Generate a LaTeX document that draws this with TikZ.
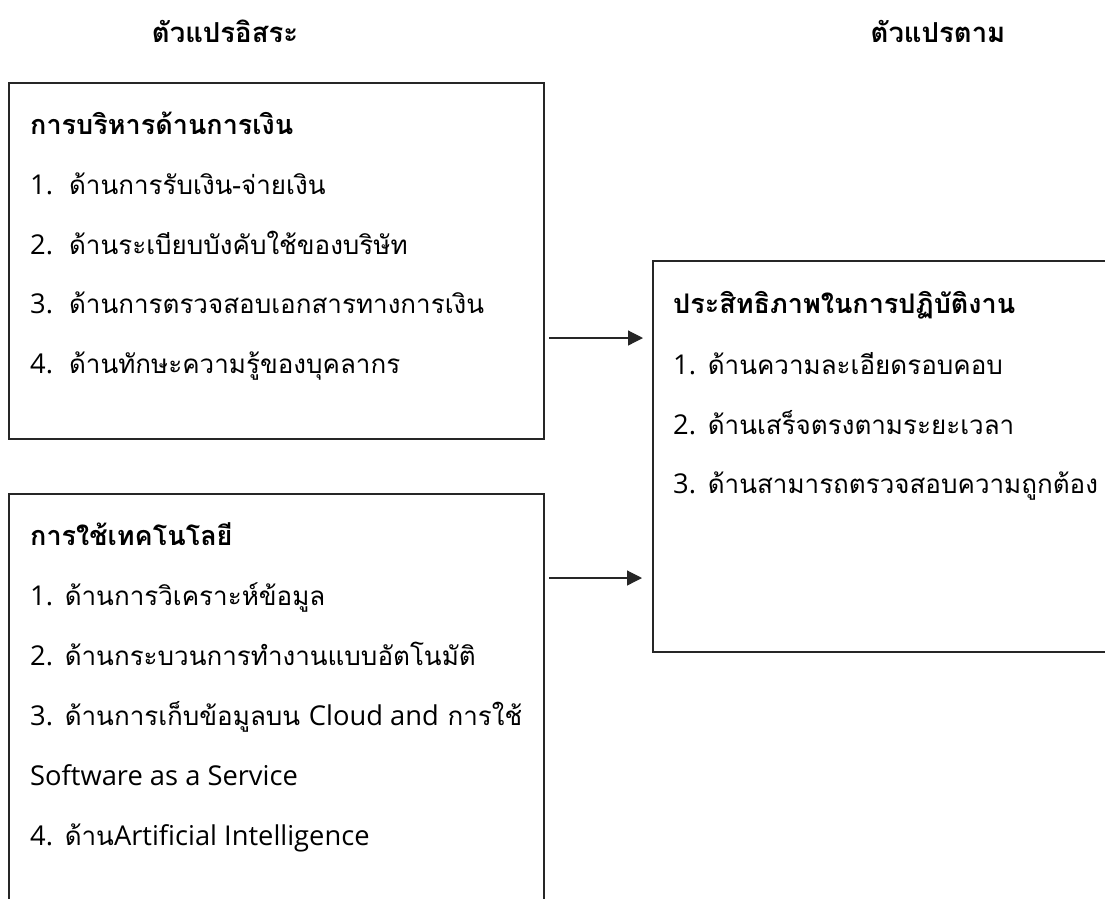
\documentclass[tikz,border=0pt]{standalone}
\usepackage{fontspec}
\setmainfont[Script=Thai]{Loma}
\newfontfamily\latf[Scale=1.05]{Open Sans}
\newcommand\lat[1]{{\latf #1}}
\usetikzlibrary{arrows.meta}
\tikzset{
  frame/.style={draw=black!85, line width=1.3pt},
  txt/.style={anchor=base west, inner sep=0pt, font=\fontsize{26}{30}\selectfont},
  head/.style={txt, font=\fontsize{27}{31}\selectfont\bfseries},
  title/.style={anchor=base, inner sep=0pt, font=\fontsize{27.5}{31}\selectfont\bfseries},
  conn/.style={draw=black!85, line width=1.2pt, -{Triangle[length=15pt,width=15pt]}}
}
\begin{document}
\begin{tikzpicture}[x=1pt,y=-1pt]
\useasboundingbox (0,0) rectangle (1105,898);
\clip (0,0) rectangle (1105,898);
\fill[white] (0,0) rectangle (1105,898);
% titles
\node[title] (t1) at (225,42) {ตัวแปรอิสระ};
\node[title] (t2) at (938,42) {ตัวแปรตาม};
% boxes
\draw[frame] (9,83) rectangle (544,439);
\coordinate (b1e) at (544,338);
\draw[frame] (9,960) -- (9,494) -- (544,494) -- (544,960);
\coordinate (b2e) at (544,578);
\draw[frame] (1150,261) -- (653,261) -- (653,652) -- (1150,652);
\coordinate (oute) at (653,338);
\coordinate (outf) at (653,578);
% box 1 text
\node[head] (h1) at (30,134) {การบริหารด้านการเงิน};
\node[txt] (l11) at (30,194) {\lat{1.}\hspace{16pt}ด้านการรับเงิน-จ่ายเงิน};
\node[txt] (l12) at (30,254) {\lat{2.}\hspace{16pt}ด้านระเบียบบังคับใช้ของบริษัท};
\node[txt] (l13) at (30,313) {\lat{3.}\hspace{16pt}ด้านการตรวจสอบเอกสารทางการเงิน};
\node[txt] (l14) at (30,373) {\lat{4.}\hspace{16pt}ด้านทักษะความรู้ของบุคลากร};
% box 2 text
\node[head] (h2) at (30,545) {การใช้เทคโนโลยี};
\node[txt] (l21) at (30,605) {\lat{1.} ด้านการวิเคราะห์ข้อมูล};
\node[txt] (l22) at (30,665) {\lat{2.} ด้านกระบวนการทำงานแบบอัตโนมัติ};
\node[txt] (l23) at (30,725) {\lat{3.} ด้านการเก็บข้อมูลบน \lat{Cloud and} การใช้};
\node[txt] (l24) at (30,785) {\lat{Software as a Service}};
\node[txt] (l25) at (30,845) {\lat{4.} ด้าน\lat{Artificial Intelligence}};
% right box text
\node[head] (h3) at (673,313) {ประสิทธิภาพในการปฏิบัติงาน};
\node[txt] (l31) at (673,374) {\lat{1.} ด้านความละเอียดรอบคอบ};
\node[txt] (l32) at (673,434) {\lat{2.} ด้านเสร็จตรงตามระยะเวลา};
\node[txt] (l33) at (673,493) {\lat{3.} ด้านสามารถตรวจสอบความถูกต้อง};
% arrows
\draw[conn, shorten <=5pt, shorten >=10pt] (b1e) -- (oute);
\draw[conn, shorten <=5pt, shorten >=11pt] (b2e) -- (outf);
\end{tikzpicture}
\end{document}
